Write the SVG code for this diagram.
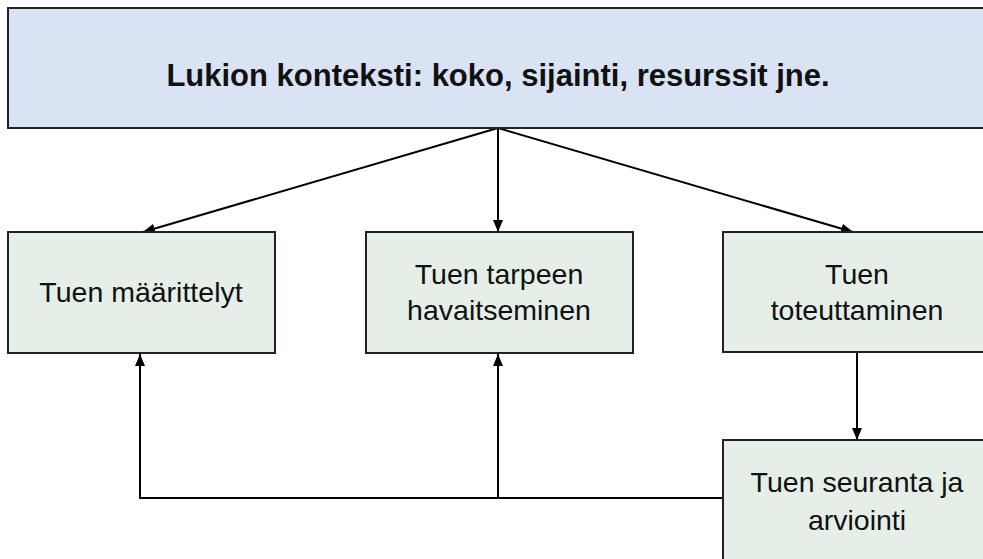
<svg xmlns="http://www.w3.org/2000/svg" width="983" height="559" viewBox="0 0 983 559">
<defs>
<marker id="ah" viewBox="0 0 12 10" refX="12" refY="5" markerWidth="12" markerHeight="10" markerUnits="userSpaceOnUse" orient="auto">
<path d="M0,0 L12,5 L0,10 Z" fill="#000"/>
</marker>
</defs>
<style>
.top{fill:#dae3f3;stroke:#222;stroke-width:2}
.box{fill:#e5efe7;stroke:#222;stroke-width:2}
.t{font-family:"Liberation Sans",Arial,sans-serif;font-size:28.5px;fill:#111;text-anchor:middle}
.tb{font-family:"Liberation Sans",Arial,sans-serif;font-size:31px;font-weight:bold;fill:#111;text-anchor:middle}
.c{fill:none;stroke:#000;stroke-width:2}
</style>
<rect width="983" height="559" fill="#fff"/>
<g id="connectors">
<line class="c" x1="498" y1="128" x2="143" y2="232" marker-end="url(#ah)"/>
<line class="c" x1="498" y1="128" x2="498" y2="232" marker-end="url(#ah)"/>
<line class="c" x1="498" y1="128" x2="853" y2="232" marker-end="url(#ah)"/>
<line class="c" x1="857" y1="352" x2="857" y2="440" marker-end="url(#ah)"/>
<polyline class="c" points="723,498 140,498 140,354" marker-end="url(#ah)"/>
<line class="c" x1="498" y1="498" x2="498" y2="354" marker-end="url(#ah)"/>
</g>
<g id="context">
<rect class="top" x="8" y="8" width="990" height="120"/>
<text class="tb" x="498" y="86">Lukion konteksti: koko, sijainti, resurssit jne.</text>
</g>
<g id="maarittelyt">
<rect class="box" x="8" y="232" width="267" height="121"/>
<text class="t" x="141" y="302">Tuen määrittelyt</text>
</g>
<g id="havaitseminen">
<rect class="box" x="366" y="232" width="267" height="121"/>
<text class="t" x="499" y="284">Tuen tarpeen</text>
<text class="t" x="499" y="320">havaitseminen</text>
</g>
<g id="toteuttaminen">
<rect class="box" x="723" y="232" width="270" height="120"/>
<text class="t" x="857" y="284">Tuen</text>
<text class="t" x="857" y="320">toteuttaminen</text>
</g>
<g id="seuranta">
<rect class="box" x="723" y="440" width="270" height="130"/>
<text class="t" x="857" y="492">Tuen seuranta ja</text>
<text class="t" x="857" y="530">arviointi</text>
</g>
</svg>
